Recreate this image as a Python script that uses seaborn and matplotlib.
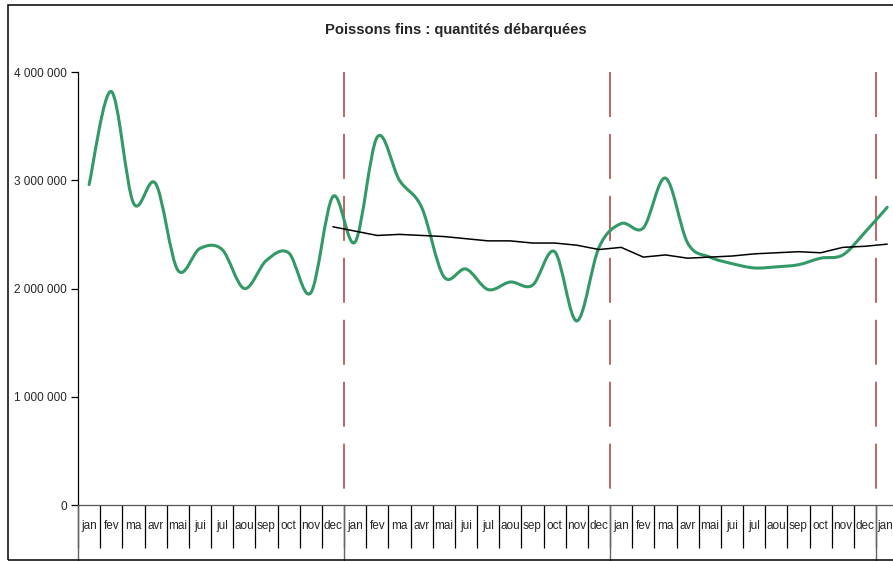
from matplotlib import pyplot as plt
from matplotlib.path import Path
from matplotlib.patches import PathPatch, Rectangle
import matplotlib.transforms as mtransforms
import seaborn as sns
import pandas as pd
import numpy as np

# Monthly landings (tonnes), three years + january
months = ["jan", "fev", "ma", "avr", "mai", "jui", "jul", "aou", "sep", "oct", "nov", "dec"] * 3 + ["jan"]
landings = [
    2960000, 3820000, 2790000, 2970000, 2170000, 2370000, 2360000, 2000000, 2260000, 2330000, 1960000, 2850000,
    2430000, 3400000, 3000000, 2750000, 2110000, 2180000, 1990000, 2060000, 2030000, 2340000, 1700000, 2380000,
    2600000, 2560000, 3020000, 2420000, 2290000, 2230000, 2190000, 2200000, 2220000, 2280000, 2310000, 2520000,
    2750000,
]
# 12-month moving average, starts at december of the first year
ma_start = 11
moving_avg = [
    2570000, 2530000, 2490000, 2500000, 2490000, 2480000, 2460000, 2440000, 2440000, 2420000, 2420000, 2400000,
    2360000, 2380000, 2290000, 2310000, 2280000, 2290000, 2300000, 2320000, 2330000, 2340000, 2330000, 2380000,
    2390000, 2410000,
]
year_breaks = [11.5, 23.5, 35.5]
y_ticks = [0, 1000000, 2000000, 3000000, 4000000]

sns.set_style("white")
plt.rcParams["font.family"] = ["Liberation Sans", "DejaVu Sans"]
plt.rcParams["lines.scale_dashes"] = False

W, H = 893, 561
fig = plt.figure(figsize=(W / 100, H / 100), dpi=100)
ax = fig.add_axes([78 / W, 56 / H, (W - 78) / W, 433 / H])

# smoothed green series (Excel-like Catmull-Rom bezier through the monthly points)
x = np.arange(len(landings), dtype=float)
y = np.array(landings, dtype=float)
pts = np.column_stack([x, y])
verts = [tuple(pts[0])]
codes = [Path.MOVETO]
n = len(pts)
for i in range(n - 1):
    p0 = pts[i - 1] if i > 0 else pts[i]
    p1 = pts[i]
    p2 = pts[i + 1]
    p3 = pts[i + 2] if i + 2 < n else pts[i + 1]
    c1 = p1 + (p2 - p0) / 6
    c2 = p2 - (p3 - p1) / 6
    verts += [tuple(c1), tuple(c2), tuple(p2)]
    codes += [Path.CURVE4] * 3
ax.add_patch(PathPatch(Path(verts, codes), fill=False, ec="#339966", lw=2.2,
                       capstyle="round", joinstyle="round", zorder=3))

# moving average
df_ma = pd.DataFrame({"pos": np.arange(ma_start, ma_start + len(moving_avg)), "val": moving_avg})
sns.lineplot(data=df_ma, x="pos", y="val", color="black", lw=1.1, ax=ax, zorder=4)

# year separators (dashed)
for xb in year_breaks:
    ax.plot([xb, xb], [4000000, 0], color="#b03a3a", lw=1.1,
            linestyle=(0, (32.4, 12.2)), zorder=2)

# axes styling
ax.set_xlabel("")
ax.set_ylabel("")
for s in ["top", "right"]:
    ax.spines[s].set_visible(False)
ax.spines["left"].set_color("black")
ax.spines["left"].set_linewidth(0.9)
ax.spines["bottom"].set_color("#555555")
ax.spines["bottom"].set_linewidth(0.9)

ax.set_yticks(y_ticks)
ax.set_yticklabels([f"{v:,}".replace(",", " ") for v in y_ticks], fontsize=8.5)
ax.tick_params(axis="y", direction="out", length=5, width=0.9, pad=3, color="black", left=True)

# month labels; the last one is cut by the chart edge, so it is placed just after the boundary
ax.set_xticks(np.arange(len(months) - 1))
ax.set_xticklabels(months[:-1], fontsize=8.5)
ax.set_xticks(np.arange(len(months) + 1) - 0.5, minor=True)
ax.tick_params(axis="x", which="major", length=0, pad=11)
ax.tick_params(axis="x", which="minor", direction="out", length=31, width=0.9, color="black", bottom=True)

trans = mtransforms.blended_transform_factory(ax.transData, ax.transAxes)
ax.text(len(months) - 1.5 + 0.05, -11 / 72 * 100 / 433, months[-1], transform=trans,
        ha="left", va="top", fontsize=8.5, color="#262626", clip_on=False)

# year level boundaries reaching the frame
for xb in [-0.5] + year_breaks:
    ax.plot([xb, xb], [0, -55 / 433], transform=trans, color="#666666", lw=1.0, clip_on=False)

# limits last, so autoscaling does not move them
cat_w = 22.17
ax.set_xlim(-0.5, -0.5 + (W - 78) / cat_w)
ax.set_ylim(0, 4000000)

# title and chart frame
fig.text(456 / W, 1 - 30 / H, "Poissons fins : quantités débarquées", ha="center", va="center",
         fontsize=10.6, fontweight="bold")
fig.patches.append(Rectangle((7.5 / W, 1 / H), 2, 555 / H, transform=fig.transFigure,
                             fill=False, ec="black", lw=1.1))

plt.savefig("out.png", dpi=100)
